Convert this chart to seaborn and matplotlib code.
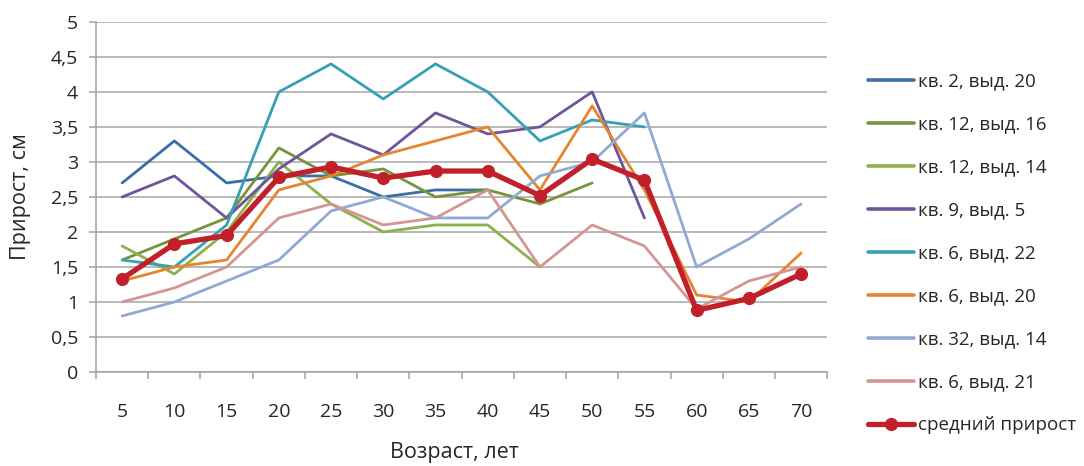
import numpy as np
import pandas as pd
import matplotlib
matplotlib.use("Agg")
import matplotlib.pyplot as plt
from matplotlib.ticker import FuncFormatter, MultipleLocator, FixedLocator
from matplotlib.lines import Line2D
import seaborn as sns

# ages (categories)
ages = [5, 10, 15, 20, 25, 30, 35, 40, 45, 50, 55, 60, 65, 70]

series_names = [
    "кв. 2, выд. 20",
    "кв. 12, выд. 16",
    "кв. 12, выд. 14",
    "кв. 9, выд. 5",
    "кв. 6, выд. 22",
    "кв. 6, выд. 20",
    "кв. 32, выд. 14",
    "кв. 6, выд. 21",
]
nan = np.nan
kv2_v20 = [2.7, 3.3, 2.7, 2.8, 2.8, 2.5, 2.6, 2.6, nan, nan, nan, nan, nan, nan]
kv12_v16 = [1.6, 1.9, 2.2, 3.2, 2.8, 2.9, 2.5, 2.6, 2.4, 2.7, nan, nan, nan, nan]
kv12_v14 = [1.8, 1.4, 2.0, 3.0, 2.4, 2.0, 2.1, 2.1, 1.5, nan, nan, nan, nan, nan]
kv9_v5 = [2.5, 2.8, 2.2, 2.9, 3.4, 3.1, 3.7, 3.4, 3.5, 4.0, 2.2, nan, nan, nan]
kv6_v22 = [1.6, 1.5, 2.1, 4.0, 4.4, 3.9, 4.4, 4.0, 3.3, 3.6, 3.5, nan, nan, nan]
kv6_v20 = [1.3, 1.5, 1.6, 2.6, 2.8, 3.1, 3.3, 3.5, 2.6, 3.8, 2.6, 1.1, 1.0, 1.7]
kv32_v14 = [0.8, 1.0, 1.3, 1.6, 2.3, 2.5, 2.2, 2.2, 2.8, 3.0, 3.7, 1.5, 1.9, 2.4]
kv6_v21 = [1.0, 1.2, 1.5, 2.2, 2.4, 2.1, 2.2, 2.6, 1.5, 2.1, 1.8, 0.9, 1.3, 1.5]
mean_growth = [1.33, 1.83, 1.95, 2.78, 2.93, 2.77, 2.87, 2.87, 2.52, 3.04, 2.74, 0.88, 1.05, 1.40]
mean_name = "средний прирост"

series_values = [kv2_v20, kv12_v16, kv12_v14, kv9_v5, kv6_v22, kv6_v20, kv32_v14, kv6_v21]

colors = ["#3A6EA8", "#77933C", "#8DB04B", "#6E559A", "#37A0B6",
          "#E5852F", "#8FAAD3", "#D59593"]
mean_color = "#C11F29"

rows = []
for name, vals in zip(series_names, series_values):
    for i, v in enumerate(vals):
        if not np.isnan(v):
            rows.append({"pos": i, "value": v, "series": name})
df = pd.DataFrame(rows)
df_mean = pd.DataFrame({"pos": range(len(ages)), "value": mean_growth})

sns.set_theme(style="white")
plt.rcParams["font.family"] = ["Open Sans", "DejaVu Sans"]

fig = plt.figure(figsize=(10.84, 4.66), dpi=100)
ax = fig.add_axes([0.0886, 0.2017, 0.6745, 0.7513])

sns.lineplot(data=df, x="pos", y="value", hue="series", hue_order=series_names,
             palette=dict(zip(series_names, colors)), linewidth=2.0, ax=ax,
             legend=False, sort=False)
sns.lineplot(data=df_mean, x="pos", y="value", color=mean_color, linewidth=3.8,
             marker="o", markersize=9.5, markeredgewidth=0, ax=ax, legend=False)

ax.set_xlim(-0.5, len(ages) - 0.5)
ax.set_ylim(0, 5)
ax.yaxis.set_major_locator(MultipleLocator(0.5))
ax.yaxis.set_major_formatter(FuncFormatter(lambda v, p: f"{v:g}".replace(".", ",")))
ax.set_xticks(range(len(ages)))
ax.set_xticklabels([str(a) for a in ages])
ax.xaxis.set_minor_locator(FixedLocator(np.arange(-0.5, len(ages), 1.0)))

ax.grid(axis="y", color="#A6A6A6", linewidth=1.1)
ax.set_axisbelow(True)
for s in ["top", "right"]:
    ax.spines[s].set_visible(False)
for s in ["left", "bottom"]:
    ax.spines[s].set_color("#A0A0A0")
    ax.spines[s].set_linewidth(1.1)

ax.tick_params(axis="x", which="major", length=0, pad=22, labelsize=14, colors="#262626")
ax.tick_params(axis="x", which="minor", length=5, width=1.1, color="#A0A0A0", bottom=True)
ax.tick_params(axis="y", which="major", length=5, width=1.1, color="#A0A0A0", left=True,
               pad=8, labelsize=14, labelcolor="#262626")

ax.set_xlabel("Возраст, лет", fontsize=15.5, color="#262626")
ax.set_ylabel("Прирост, см", fontsize=15.5, color="#262626")
ax.xaxis.set_label_coords(0.49, -0.229)
ax.yaxis.set_label_coords(-0.104, 0.5)
ax.xaxis.label.set_va("center")
ax.yaxis.label.set_va("center")

handles = [Line2D([], [], color=c, linewidth=2.6) for c in colors]
handles.append(Line2D([], [], color=mean_color, linewidth=3.8, marker="o",
                      markersize=9.5, markeredgewidth=0))
labels = series_names + [mean_name]
fig.legend(handles, labels, loc="upper left", bbox_to_anchor=(0.794, 0.86),
           frameon=False, fontsize=13.5, handlelength=2.45, handletextpad=0.2,
           labelspacing=1.33, borderaxespad=0)

fig.savefig("out.png", dpi=100)
